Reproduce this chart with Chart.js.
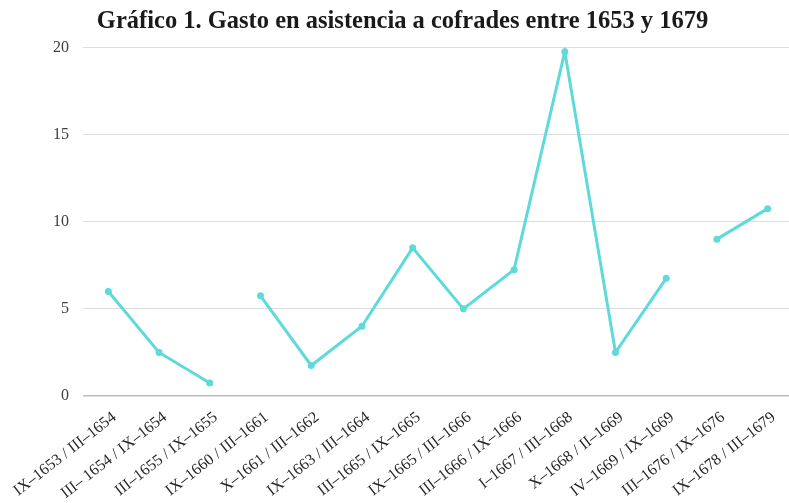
<!DOCTYPE html>
<html>
<head>
<meta charset="utf-8">
<script src="https://cdn.jsdelivr.net/npm/chart.js@4/dist/chart.umd.min.js"></script>
<style>
  html, body { margin: 0; padding: 0; background: #fff; overflow: hidden; }
  #wrap { width: 800px; height: 503px; }
</style>
</head>
<body>
<div id="wrap"><canvas id="gastoChart" width="800" height="503"></canvas></div>
<script>
// Periods (semesters of accounts)
const periods = [
    'IX–1653 / III–1654', 'III– 1654 / IX–1654', 'III–1655 / IX–1655',
    'IX–1660 / III–1661', 'X–1661 / III–1662', 'IX–1663 / III–1664',
    'III–1665 / IX–1665', 'IX–1665 / III–1666', 'III–1666 / IX–1666',
    'I–1667 / III–1668', 'X–1668 / II–1669', 'IV–1669 / IX–1669',
    'III–1676 / IX–1676', 'IX–1678 / III–1679'
];
const gasto = [6, 2.5, 0.75, 5.75, 1.75, 4, 8.5, 5, 7.25, 19.75, 2.5, 6.75, 9, 10.75];
// the line is interrupted after these points (missing years)
const gapAfter = [2, 11];
const yTicks = [0, 5, 10, 15, 20];

const lineColor = '#5fdadb';

function initChart() {
    const ctx = document.getElementById('gastoChart');

    new Chart(ctx, {
        type: 'line',
        data: {
            labels: periods,
            datasets: [{
                label: 'Gasto',
                data: gasto,
                borderColor: lineColor,
                backgroundColor: lineColor,
                borderWidth: 3,
                pointRadius: 3.5,
                pointBorderWidth: 0,
                pointBackgroundColor: lineColor,
                tension: 0,
                segment: {
                    borderColor: c => gapAfter.includes(c.p0DataIndex) ? 'rgba(0,0,0,0)' : lineColor
                }
            }]
        },
        options: {
            responsive: false,
            devicePixelRatio: 1,
            animation: false,
            layout: { padding: { left: 12, right: 7, top: 0, bottom: 0 } },
            plugins: {
                legend: { display: false },
                tooltip: { enabled: false },
                title: {
                    display: true,
                    text: 'Gráfico 1. Gasto en asistencia a cofrades entre 1653 y 1679',
                    color: '#1a1a1a',
                    font: { family: '"Liberation Serif", "DejaVu Serif", serif', size: 24.5, weight: 'bold', lineHeight: 1.2 },
                    padding: { top: 7, bottom: 11 }
                }
            },
            scales: {
                x: {
                    offset: true,
                    grid: { display: false, drawTicks: false },
                    border: { display: false },
                    ticks: {
                        minRotation: 38,
                        maxRotation: 38,
                        autoSkip: false,
                        padding: 12,
                        labelOffset: 6,
                        color: '#262626',
                        font: { family: '"Liberation Serif", serif', size: 16 }
                    },
                    afterFit: s => {
                        s.height = 107;
                        // long rotated labels may overflow to the left, as in the original
                        s.paddingLeft = 0;
                        s.paddingRight = 0;
                    }
                },
                y: {
                    min: 0,
                    max: 20,
                    afterBuildTicks: s => { s.ticks = yTicks.map(v => ({ value: v })); },
                    grid: {
                        drawTicks: false,
                        color: c => c.tick.value === 0 ? '#bdbdbd' : '#dedede',
                        lineWidth: c => c.tick.value === 0 ? 1.5 : 1
                    },
                    border: { display: false },
                    ticks: {
                        padding: 14,
                        color: '#404040',
                        font: { family: '"Liberation Serif", serif', size: 16 }
                    },
                    afterFit: s => { s.width = 71; }
                }
            }
        }
    });
}

document.addEventListener('DOMContentLoaded', initChart);
</script>
</body>
</html>
